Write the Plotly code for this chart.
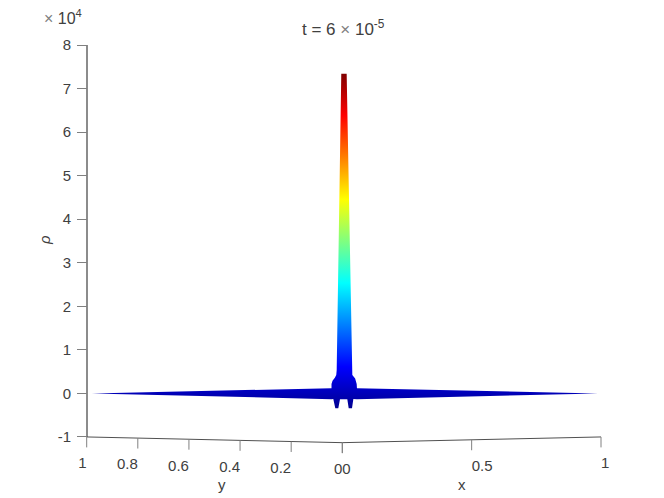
# density spike seen from the front, drawn flat in the projected (u, rho) plane
import plotly.graph_objects as go

# surface outline, u = projected horizontal position, rho in units of 1e4
outline_u = [
    -0.974, -0.042, -0.042, -0.038, -0.029, -0.0235, -0.0218, -0.0156, -0.0089, -0.004,
    0.017, 0.021, 0.0272, 0.0366, 0.039, 0.050, 0.056, 0.057, 0.995,
    0.057, 0.043, 0.0377, 0.0249, 0.0195, -0.009, -0.0156,
    -0.0272, -0.035, -0.042,
]
outline_rho = [
    0.00, 0.119, 0.218, 0.29, 0.36, 0.42, 0.54, 3.295, 6.05, 7.34,
    7.34, 6.05, 3.295, 0.54, 0.42, 0.34, 0.218, 0.119, 0.00,
    -0.133, -0.126, -0.34, -0.34, -0.133, -0.133, -0.34,
    -0.34, -0.126, -0.133,
]

# colour limits of the surface
rho_min = -0.35
rho_max = 7.34
jet_colours = [
    [0.0, "#00008f"],
    [0.125, "#0000ff"],
    [0.375, "#00ffff"],
    [0.625, "#ffff00"],
    [0.875, "#ff0000"],
    [1.0, "#800000"],
]

rho_ticks = [-1, 0, 1, 2, 3, 4, 5, 6, 7, 8]
rho_labels = ["-1", "0", "1", "2", "3", "4", "5", "6", "7", "8"]
y_ticks = [1, 0.8, 0.6, 0.4, 0.2, 0]
y_labels = ["1", "0.8", "0.6", "0.4", "0.2", "0"]
x_ticks = [0, 0.5, 1]
x_labels = ["0", "0.5", "1"]

# the page body adds 8px around the figure, all px values below are page pixels
PAGE_MARGIN = 8
WIDTH = 664
HEIGHT = 498
LEFT = 60
RIGHT = 620
TOP = 45
PLOT_END = 490
AXIS_PX = 87
PX_PER_U = 257
PX_PER_RHO = 43.55
ORIGIN_PX = 342.3
TEXT_COLOUR = "#404040"
AXIS_COLOUR = "#8c8c8c"
FONT = "Liberation Sans, Arial, sans-serif"


# screen position helpers, only used to place axes furniture
def px_x(px):
    return (px - ORIGIN_PX) / PX_PER_U


def px_y(py):
    return 8 - (py - TOP) / PX_PER_RHO


# floor of the box: it drops slightly towards the origin corner
def floor_rho(dist):
    return -1 - 0.131 * (1 - dist)


def x_u(x):
    return x * 1.0066


def y_u(y):
    return -y * 0.9946


tick_len = 0.24
fig = go.Figure()

fig.add_trace(
    go.Scatter(
        x=outline_u + [outline_u[0]],
        y=outline_rho + [outline_rho[0]],
        mode="lines",
        line=dict(width=0),
        fill="toself",
        fillgradient=dict(
            type="vertical", colorscale=jet_colours, start=rho_min, stop=rho_max
        ),
        hoverinfo="skip",
    )
)

# the rho axis line stops at -1, the y axis itself runs on below it
fig.add_trace(
    go.Scatter(
        x=[px_x(AXIS_PX), px_x(AXIS_PX)],
        y=[rho_ticks[0], rho_ticks[-1]],
        mode="lines",
        line=dict(color=AXIS_COLOUR, width=2),
        hoverinfo="skip",
    )
)

# floor edges with ticks
for ticks, labels, to_u, position in [
    (y_ticks, y_labels, y_u, "bottom left"),
    (x_ticks, x_labels, x_u, "bottom right"),
]:
    edge_u = [to_u(t) for t in ticks]
    edge_rho = [floor_rho(t) for t in ticks]
    tick_u = []
    tick_rho = []
    for u, r in zip(edge_u, edge_rho):
        tick_u += [u, u, None]
        tick_rho += [r, r - tick_len, None]
    fig.add_trace(
        go.Scatter(
            x=edge_u,
            y=edge_rho,
            mode="lines",
            line=dict(color="#505050", width=1),
            hoverinfo="skip",
        )
    )
    fig.add_trace(
        go.Scatter(
            x=tick_u,
            y=tick_rho,
            mode="lines",
            line=dict(color="#808080", width=1),
            hoverinfo="skip",
        )
    )
    fig.add_trace(
        go.Scatter(
            x=edge_u,
            y=[r - tick_len - 0.22 for r in edge_rho],
            mode="text",
            text=labels,
            textposition=position,
            textfont=dict(family=FONT, size=15, color=TEXT_COLOUR),
            hoverinfo="skip",
        )
    )

plot_height = PLOT_END - TOP

fig.update_xaxes(
    range=[px_x(LEFT), px_x(RIGHT)],
    showgrid=False,
    zeroline=False,
    showline=False,
    showticklabels=False,
    ticks="",
)
fig.update_yaxes(
    range=[px_y(PLOT_END), 8],
    anchor="free",
    position=(AXIS_PX - LEFT) / (RIGHT - LEFT),
    tickmode="array",
    tickvals=rho_ticks,
    ticktext=rho_labels,
    ticks="outside",
    ticklen=10,
    ticklabelstandoff=3,
    tickcolor="#808080",
    tickwidth=1,
    showgrid=False,
    zeroline=False,
    showline=False,
    tickfont=dict(family=FONT, size=15, color=TEXT_COLOUR),
)


def add_text(text, px, py, size=15, **kwargs):
    fig.add_annotation(
        x=(px - LEFT) / (RIGHT - LEFT),
        y=(PLOT_END - py) / plot_height,
        xref="paper",
        yref="paper",
        xanchor="center",
        yanchor="middle",
        text=text,
        showarrow=False,
        font=dict(family=FONT, size=size, color=TEXT_COLOUR),
        **kwargs,
    )


add_text("t = 6 <span style='color:#808080'>×</span> 10<sup>-5</sup>", 343, 28, size=17)
add_text("<span style='color:#808080'>×</span> 10<sup>4</sup>", 63, 17, size=16)
add_text("<i>ρ</i>", 45, 240, size=15, textangle=-90)
add_text("y", 222, 484)
add_text("x", 462, 484)

fig.update_layout(
    width=WIDTH - PAGE_MARGIN,
    height=HEIGHT,
    autosize=False,
    showlegend=False,
    plot_bgcolor="white",
    paper_bgcolor="white",
    margin=dict(
        l=LEFT - PAGE_MARGIN,
        r=WIDTH - RIGHT,
        t=TOP - PAGE_MARGIN,
        b=HEIGHT + PAGE_MARGIN - PLOT_END,
        pad=0,
    ),
)

fig.write_html("out.html")
